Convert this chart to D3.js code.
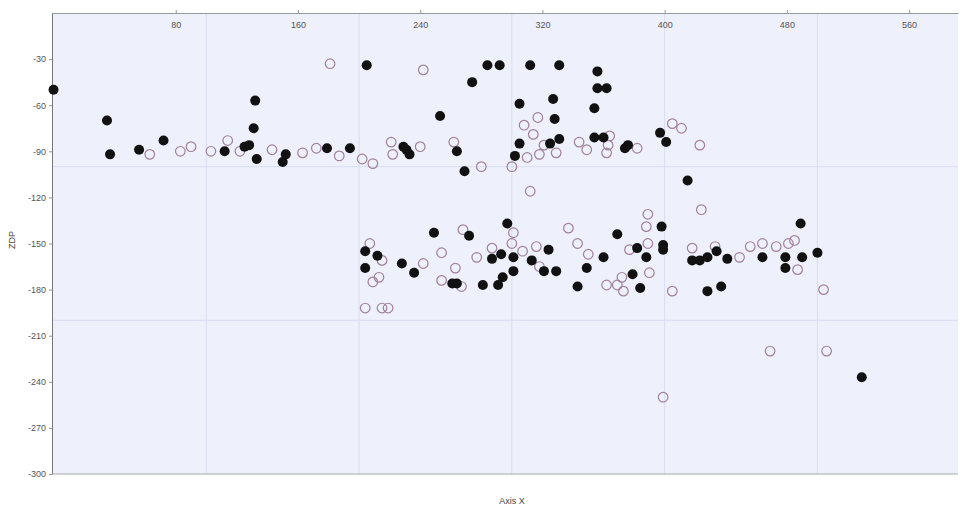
<!DOCTYPE html>
<html>
<head>
<meta charset="utf-8">
<script src="https://cdn.jsdelivr.net/npm/d3@7"></script>
<style>
	body { margin: 0; background: #fff; }
	svg { display: block; font-family: "Liberation Sans", Arial, sans-serif; }
</style>
</head>
<body>
<svg id="chart" width="961" height="510"></svg>
<script>
'use strict';

// tick labels
var xTicks = [80, 160, 240, 320, 400, 480, 560];
var yTicks = [-30, -60, -90, -120, -150, -180, -210, -240, -270, -300];
var xGrid = [100, 200, 300, 400, 500];
var yGrid = [-100, -200];

// filled series [x, y]
var filledPts = [
	[0, -50], [35, -70], [37, -92], [56, -89], [72, -83], [112, -90],
	[125, -87], [128, -86], [132, -57], [131, -75], [133, -95], [150, -97],
	[152, -92], [179, -88], [194, -88], [205, -34], [284, -34], [292, -34],
	[312, -34], [331, -34], [356, -38], [356, -49], [362, -49], [354, -62],
	[274, -45], [305, -59], [327, -56], [328, -69], [253, -67], [229, -87],
	[233, -92], [231, -89], [264, -90], [269, -103], [305, -85], [302, -93],
	[325, -85], [331, -82], [354, -81], [360, -81], [374, -88], [376, -86],
	[397, -78], [401, -84], [415, -109],
	[204, -155], [204, -166], [212, -158], [228, -163], [236, -169], [249, -143],
	[272, -145], [261, -176], [264, -176], [281, -177], [287, -160], [293, -157],
	[297, -137], [301, -159], [301, -168], [294, -172], [291, -177], [313, -161],
	[321, -168], [329, -168], [324, -154], [343, -178], [349, -166], [360, -159],
	[369, -144], [379, -170], [382, -153], [388, -159], [384, -179], [398, -139],
	[399, -151], [399, -154], [418, -161], [423, -161], [428, -159], [434, -155],
	[441, -160], [428, -181], [437, -178], [464, -159], [479, -159], [479, -166],
	[489, -137], [490, -159], [500, -156], [529, -237]
];

// open series [x, y]
var openPts = [
	[181, -33], [242, -37], [63, -92], [83, -90], [90, -87], [103, -90],
	[114, -83], [122, -90], [143, -89], [163, -91], [172, -88], [187, -93],
	[202, -95], [209, -98], [221, -84], [222, -92], [240, -87], [262, -84],
	[280, -100], [300, -100], [308, -73], [317, -68], [314, -79], [310, -94],
	[318, -92], [321, -86], [329, -91], [344, -84], [349, -89], [362, -91],
	[364, -80], [363, -86], [382, -88], [405, -72], [411, -75], [423, -86],
	[312, -116],
	[207, -150], [215, -161], [209, -175], [213, -172], [204, -192], [215, -192],
	[219, -192], [242, -163], [254, -156], [254, -174], [263, -166], [267, -178],
	[268, -141], [277, -159], [287, -153], [300, -150], [301, -143], [307, -155],
	[316, -152], [318, -165], [337, -140], [343, -150], [350, -157], [362, -177],
	[369, -177], [373, -181], [372, -172], [377, -154], [389, -131], [388, -139],
	[389, -150], [390, -169], [405, -181], [424, -128], [418, -153], [433, -152],
	[449, -159], [456, -152], [464, -150], [473, -152], [481, -150], [485, -148],
	[487, -167], [504, -180], [469, -220], [506, -220], [399, -250]
];

var plot = { left: 52, right: 958, top: 13, bottom: 474 };

var svg = d3.select('#chart');

var x = d3.scaleLinear().domain([-1, 592]).range([plot.left, plot.right]);
var y = d3.scaleLinear().domain([-300, 0]).range([plot.bottom, plot.top]);

svg.append('rect')
	.attr('x', plot.left).attr('y', plot.top)
	.attr('width', plot.right - plot.left).attr('height', plot.bottom - plot.top)
	.attr('fill', '#eef0fc');

// grid
svg.append('g').selectAll('line')
	.data(xGrid)
	.enter()
	.append('line')
	.attr('x1', function(d) { return x(d); })
	.attr('x2', function(d) { return x(d); })
	.attr('y1', plot.top).attr('y2', plot.bottom)
	.attr('stroke', '#d9dcf0');

svg.append('g').selectAll('line')
	.data(yGrid)
	.enter()
	.append('line')
	.attr('x1', plot.left).attr('x2', plot.right)
	.attr('y1', function(d) { return y(d); })
	.attr('y2', function(d) { return y(d); })
	.attr('stroke', '#d9dcf0');

// bottom frame
svg.append('line')
	.attr('x1', plot.left).attr('x2', plot.right)
	.attr('y1', plot.bottom).attr('y2', plot.bottom)
	.attr('stroke', '#aaa');

// plain hyphen for negatives, like the original
var fmt = function(d) { return String(d); };

// top axis, labels inside the plot
var xAxis = svg.append('g')
	.attr('transform', 'translate(0,' + plot.top + ')')
	.call(d3.axisTop(x).tickValues(xTicks).tickFormat(fmt).tickSize(3).tickSizeOuter(0));
xAxis.select('.domain').attr('stroke', '#999');
xAxis.selectAll('.tick line').attr('stroke', '#999');
xAxis.selectAll('.tick text')
	.attr('y', 15)
	.attr('dy', '0')
	.attr('fill', '#555')
	.style('font-size', '9px');

// left axis
var yAxis = svg.append('g')
	.attr('transform', 'translate(' + plot.left + ',0)')
	.call(d3.axisLeft(y).tickValues(yTicks).tickFormat(fmt).tickSize(3).tickSizeOuter(0));
yAxis.select('.domain').attr('stroke', '#777');
yAxis.selectAll('.tick line').attr('stroke', '#999');
yAxis.selectAll('.tick text')
	.attr('fill', '#555')
	.style('font-size', '9px');

// points
svg.append('g').selectAll('circle')
	.data(openPts)
	.enter()
	.append('circle')
	.attr('cx', function(d) { return x(d[0]); })
	.attr('cy', function(d) { return y(d[1]); })
	.attr('r', 4.8)
	.attr('fill', 'none')
	.attr('stroke', '#a0809a')
	.attr('stroke-width', 1.2);

svg.append('g').selectAll('circle')
	.data(filledPts)
	.enter()
	.append('circle')
	.attr('cx', function(d) { return x(d[0]); })
	.attr('cy', function(d) { return y(d[1]); })
	.attr('r', 5)
	.attr('fill', '#111');

// axis titles
svg.append('text')
	.attr('x', (plot.left + plot.right) / 2 + 7)
	.attr('y', 504)
	.attr('text-anchor', 'middle')
	.attr('fill', '#444')
	.style('font-size', '9px')
	.text('Axis X');

svg.append('text')
	.attr('transform', 'translate(15,240) rotate(-90)')
	.attr('text-anchor', 'middle')
	.attr('fill', '#444')
	.style('font-size', '9px')
	.text('ZDP');
</script>
</body>
</html>
